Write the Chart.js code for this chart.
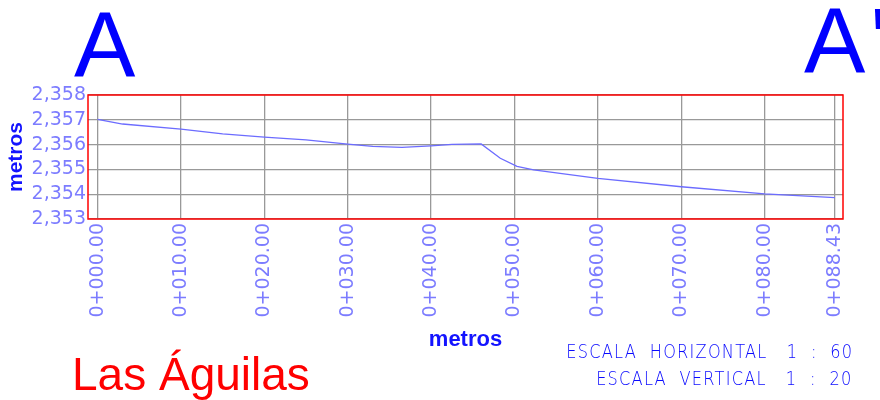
<!DOCTYPE html>
<html lang="es">
<head>
  <meta charset="UTF-8" />
  <title>Perfil A - A'</title>
  <script src="https://cdn.jsdelivr.net/npm/chart.js"></script>
  <style>
    body {
      margin: 0;
      width: 880px;
      height: 400px;
      overflow: hidden;
      background: #fff;
      position: relative;
      font-family: "Liberation Sans", Arial, sans-serif;
    }
    #wrap {
      position: absolute;
      left: 0;
      top: 0;
      width: 880px;
      height: 400px;
    }
    .big {
      position: absolute;
      color: #0000ff;
      font-size: 92px;
      line-height: 1;
      white-space: pre;
    }
    .lugar {
      position: absolute;
      left: 72px;
      top: 351px;
      color: #ff0000;
      font-size: 46px;
      line-height: 1;
    }
    .escala {
      position: absolute;
      right: 27px;
      color: #0a0aff;
      font-family: "DejaVu Sans", sans-serif;
      font-weight: 200;
      font-size: 20px;
      line-height: 1;
      white-space: pre;
      letter-spacing: 1.5px;
      transform: scaleX(0.81);
      transform-origin: right center;
    }
  </style>
</head>
<body>
  <div class="big" style="left:74px; top:-1px;">A</div>
  <div class="big" style="left:804px; top:-5px; letter-spacing:5px;">A'</div>
  <div id="wrap"><canvas id="perfil" width="880" height="400"></canvas></div>
  <div class="lugar">Las Águilas</div>
  <div class="escala" style="top:341px;">ESCALA  HORIZONTAL   1  :  60</div>
  <div class="escala" style="top:368px;">ESCALA  VERTICAL   1  :  20</div>

  <script>
    const estaciones = [0, 3, 10, 15, 20, 25, 30, 33, 36.5, 40, 42.5, 46, 48.3, 50.3, 52.3, 60, 70, 80, 88.43];
    const cotas = [2357.02, 2356.83, 2356.62, 2356.43, 2356.30, 2356.19, 2356.02, 2355.93, 2355.89, 2355.95,
                   2356.01, 2356.03, 2355.45, 2355.12, 2354.98, 2354.64, 2354.30, 2354.01, 2353.86];

    // Marcas de los ejes
    const marcasX = [0, 10, 20, 30, 40, 50, 60, 70, 80, 88.43];
    const marcasY = [2353, 2354, 2355, 2356, 2357, 2358];

    const puntos = estaciones.map((e, i) => ({ x: e, y: cotas[i] }));

    // Formato de cadenamiento 0+000.00
    function cadenamiento(v) {
      let s = v.toFixed(2);
      while (s.length < 6) s = '0' + s;
      return '0+' + s;
    }

    // Marco rojo alrededor del area del grafico
    const marcoRojo = {
      id: 'marcoRojo',
      afterDraw(chart) {
        const a = chart.chartArea;
        const ctx = chart.ctx;
        ctx.save();
        ctx.strokeStyle = '#ff0000';
        ctx.lineWidth = 1.5;
        ctx.strokeRect(a.left, a.top, a.right - a.left, a.bottom - a.top);
        ctx.restore();
      }
    };

    const ctx = document.getElementById('perfil').getContext('2d');
    new Chart(ctx, {
      type: 'line',
      data: {
        datasets: [{
          data: puntos,
          borderColor: '#6c6cff',
          borderWidth: 1.3,
          pointRadius: 0,
          tension: 0,
          fill: false
        }]
      },
      options: {
        responsive: false,
        animation: false,
        layout: { padding: { left: 0, top: 95, right: 37, bottom: 43 } },
        plugins: {
          legend: { display: false },
          tooltip: { enabled: false }
        },
        scales: {
          x: {
            type: 'linear',
            min: -1.15,
            max: 89.4,
            afterBuildTicks(scale) {
              scale.ticks = marcasX.map(v => ({ value: v }));
            },
            afterFit(scale) { scale.height = 138; },
            grid: { color: '#999999', lineWidth: 1.3, drawTicks: false },
            border: { display: false },
            ticks: {
              autoSkip: false,
              minRotation: 90,
              maxRotation: 90,
              padding: 4,
              color: '#7c7cff',
              font: { family: 'DejaVu Sans', size: 19 },
              callback: v => cadenamiento(v)
            },
            title: {
              display: true,
              text: 'metros',
              color: '#1414ff',
              padding: 4,
              font: { family: 'Liberation Sans', size: 22, weight: 'bold' }
            }
          },
          y: {
            min: 2353,
            max: 2358,
            afterBuildTicks(scale) {
              scale.ticks = marcasY.map(v => ({ value: v }));
            },
            afterFit(scale) { scale.width = 88; },
            grid: { color: '#999999', lineWidth: 1.3, drawTicks: false },
            border: { display: false },
            ticks: {
              autoSkip: false,
              padding: 2,
              color: '#7c7cff',
              font: { family: 'DejaVu Sans', size: 19 },
              callback: v => v.toLocaleString('en-US')
            },
            title: {
              display: true,
              text: 'metros',
              color: '#1414ff',
              padding: 4,
              font: { family: 'Liberation Sans', size: 21, weight: 'bold' }
            }
          }
        }
      },
      plugins: [marcoRojo]
    });
  </script>
</body>
</html>
